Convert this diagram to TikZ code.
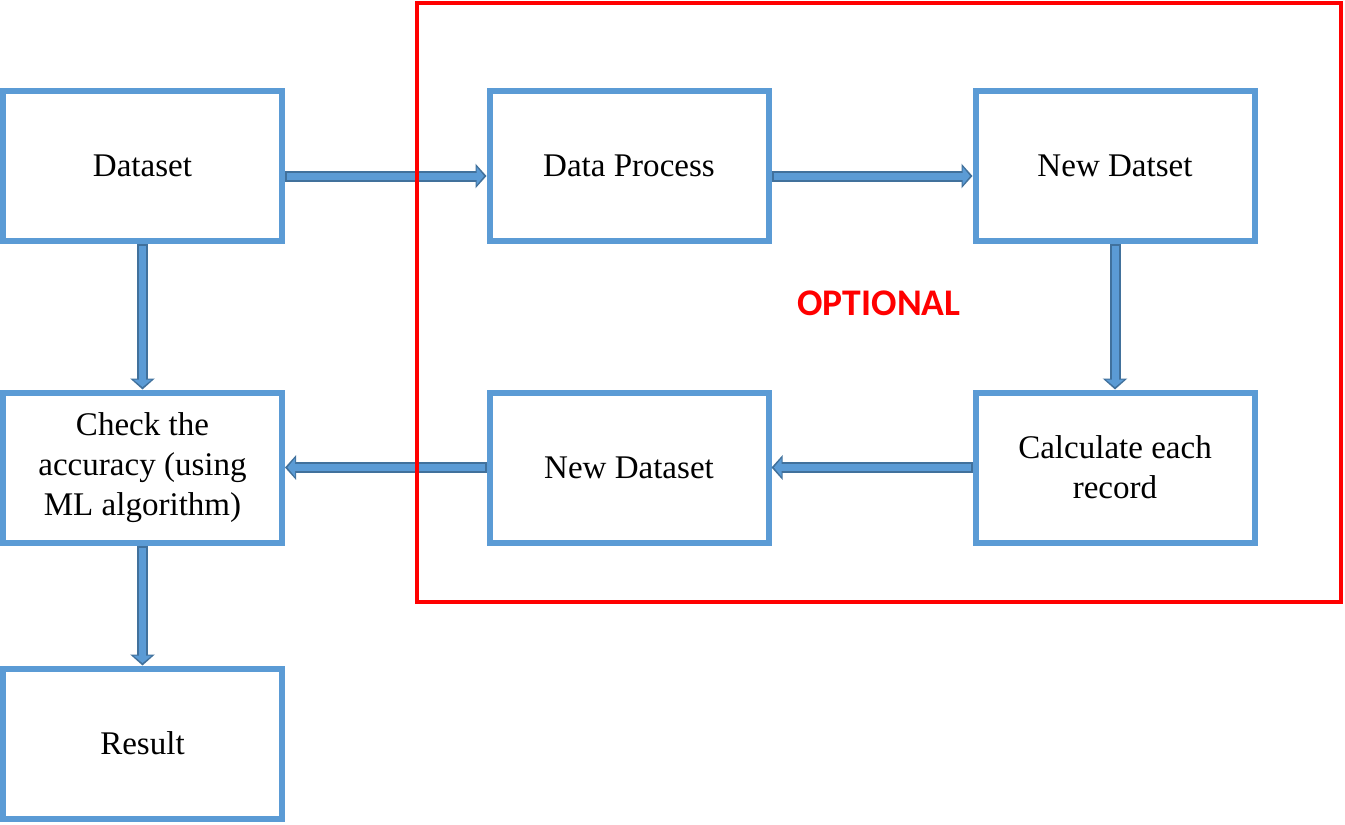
\documentclass[tikz,border=0pt]{standalone}
\usepackage{fontspec}
\setmainfont{Liberation Serif}
\newfontfamily\optfont{Carlito}
\usetikzlibrary{arrows.meta,positioning}
\definecolor{boxblue}{HTML}{5B9BD5}
\definecolor{edgeblue}{HTML}{41719C}
\tikzset{
  stage/.style={draw=boxblue,line width=0.12cm,minimum width=5.58cm,minimum height=3cm,
    inner sep=0pt,align=center,font=\fontsize{18.8}{22.7}\selectfont},
  fatarrow/.style={draw=edgeblue,line width=0.22cm,-{Triangle[length=0.22cm,width=0.48cm]},
    postaction={draw=boxblue,line width=0.14cm,shorten <=0.04cm,shorten >=0.05cm,
      -{Triangle[length=0.15cm,width=0.36cm]}}}
}

\begin{document}
\begin{tikzpicture}
    \useasboundingbox (0,0) rectangle (26.9,-16.48);

    \node[stage] (dataset) at (2.85,-3.32) {Dataset};
    \node[stage] (dataproc) at (12.58,-3.32) {Data Process};
    \node[stage] (newdatset) at (22.3,-3.32) {New Datset};
    \node[stage] (check) at (2.85,-9.35) {Check the\\accuracy (using\\ML algorithm)};
    \node[stage] (newdataset) at (12.58,-9.35) {New Dataset};
    \node[stage] (calc) at (22.3,-9.35) {Calculate each\\record};
    \node[stage] (result) at (2.85,-14.87) {Result};

    % block arrows
    \draw[fatarrow] ([yshift=-0.2cm]dataset.east) -- ([yshift=-0.2cm]dataproc.west);
    \draw[fatarrow] ([yshift=-0.2cm]dataproc.east) -- ([yshift=-0.2cm]newdatset.west);
    \draw[fatarrow] (newdatset.south) -- (calc.north);
    \draw[fatarrow] (calc.west) -- (newdataset.east);
    \draw[fatarrow] (newdataset.west) -- (check.east);
    \draw[fatarrow] (dataset.south) -- (check.north);
    \draw[fatarrow] (check.south) -- (result.north);

    % optional part
    \draw[red,line width=0.08cm] (8.34,-0.06) rectangle (26.82,-12.04);
    \node[text=red,font=\optfont\bfseries\fontsize{21.4}{25}\selectfont] (optional) at (17.58,-6.06) {OPTIONAL};
\end{tikzpicture}
\end{document}
